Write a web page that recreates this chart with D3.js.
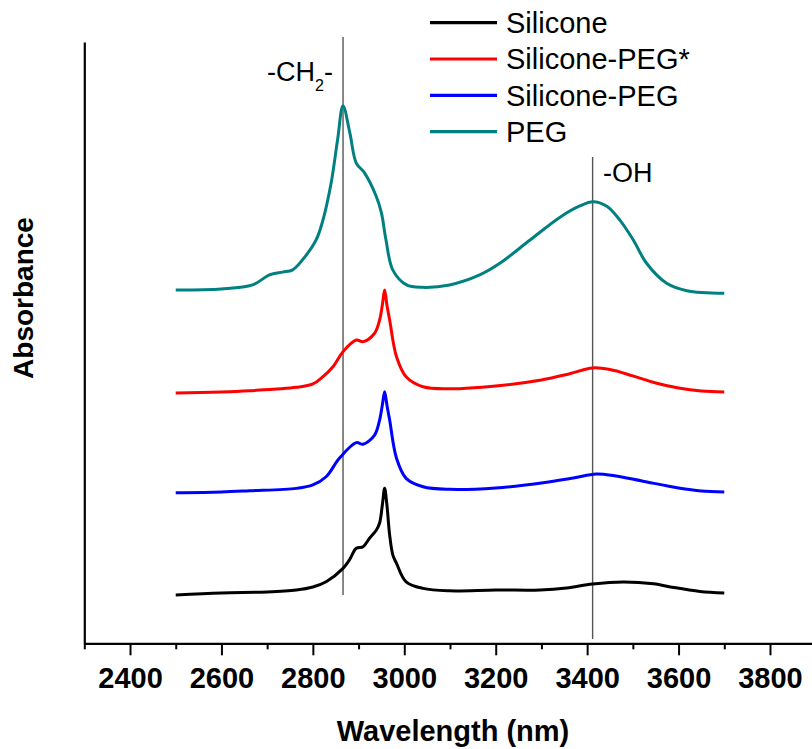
<!DOCTYPE html>
<html>
<head>
<meta charset="utf-8">
<script src="https://cdn.jsdelivr.net/npm/d3@7"></script>
<style>
  html, body { margin: 0; padding: 0; background: #fff; }
  svg { display: block; font-family: "Liberation Sans", Arial, sans-serif; }
</style>
</head>
<body>
<svg id="chart" width="812" height="749"></svg>
<script>
// ---- Data (wavelength in nm, absorbance in arbitrary stacked units) ----
const seriesNames = ["Silicone", "Silicone-PEG*", "Silicone-PEG", "PEG"];
const seriesColors = ["#000000", "#ff0000", "#0000ff", "#008080"];

const siliconeX = [2500,2600,2700,2764,2800,2829,2866,2880,2895,2910,2924,2939,2946,2952,2957,2962,2968,2975,2983,3004,3041,3099,3200,3297,3355,3412,3479,3545,3590,3647,3700];
const siliconeY = [0.241,0.251,0.256,0.266,0.281,0.307,0.374,0.416,0.474,0.482,0.524,0.565,0.600,0.690,0.773,0.690,0.540,0.440,0.399,0.307,0.274,0.262,0.266,0.266,0.276,0.296,0.306,0.297,0.278,0.259,0.251];

const silPegStarX = [2500,2600,2661,2764,2800,2822,2844,2866,2895,2910,2935,2946,2952,2957,2962,2968,2983,3004,3041,3099,3200,3300,3360,3412,3450,3500,3550,3600,3650,3700];
const silPegStarY = [1.249,1.254,1.260,1.277,1.294,1.330,1.380,1.455,1.513,1.505,1.547,1.613,1.688,1.763,1.688,1.613,1.430,1.330,1.280,1.270,1.284,1.314,1.344,1.374,1.366,1.334,1.299,1.274,1.259,1.254];

const silPegX = [2500,2600,2661,2764,2800,2829,2858,2895,2910,2935,2946,2952,2957,2962,2968,2983,3004,3041,3099,3200,3300,3370,3420,3460,3520,3600,3650,3700];
const silPegY = [0.751,0.755,0.761,0.773,0.790,0.831,0.923,1.001,0.993,1.039,1.114,1.189,1.255,1.189,1.114,0.923,0.823,0.781,0.768,0.775,0.800,0.825,0.845,0.836,0.810,0.775,0.760,0.755];

const pegX = [2500,2600,2668,2705,2734,2755,2777,2807,2821,2840,2854,2866,2881,2895,2913,2939,2950,2960,2975,3005,3040,3099,3165,3209,3275,3340,3384,3413,3443,3472,3501,3530,3574,3618,3700];
const pegY = [1.763,1.768,1.788,1.838,1.852,1.862,1.912,2.012,2.103,2.297,2.511,2.682,2.545,2.396,2.347,2.228,2.147,2.012,1.862,1.788,1.776,1.788,1.838,1.896,2.012,2.125,2.182,2.203,2.180,2.110,2.012,1.896,1.796,1.759,1.746];

const xTickMajor = [2400,2600,2800,3000,3200,3400,3600,3800];
const xTickMinor = [2300,2500,2700,2900,3100,3300,3500,3700,3900];
const markerNames = ["-CH", "-OH"];
const markerX = [2866, 3412];

// ---- Layout ----
const svg = d3.select("#chart");
const x = d3.scaleLinear().domain([2300, 3900]).range([84.3, 815.7]);
const y = d3.scaleLinear().domain([0, 3]).range([643.3, 42]);

const allX = [siliconeX, silPegStarX, silPegX, pegX];
const allY = [siliconeY, silPegStarY, silPegY, pegY];

// marker lines
const markerTop = [37, 157];
const markerBottom = [595, 639];
markerX.forEach((m, i) => {
  svg.append("line")
    .attr("x1", x(m)).attr("x2", x(m))
    .attr("y1", markerTop[i]).attr("y2", markerBottom[i])
    .attr("stroke", "#555").attr("stroke-width", 1.4);
});

// curves
const line = d3.line().x(d => x(d[0])).y(d => y(d[1])).curve(d3.curveCatmullRom.alpha(0.5));
[3, 1, 2, 0].forEach(i => {
  const pts = allX[i].map((v, k) => [v, allY[i][k]]);
  svg.append("path")
    .attr("d", line(pts))
    .attr("fill", "none")
    .attr("stroke", seriesColors[i])
    .attr("stroke-width", 3)
    .attr("stroke-linejoin", "round");
});

// axes
const gx = svg.append("g").attr("transform", `translate(0,${643.3})`);
gx.call(d3.axisBottom(x).tickValues(xTickMinor).tickSize(6).tickSizeOuter(0).tickFormat(""));
gx.call(g => g.selectAll(".tick line").attr("stroke-width", 2));
const gx2 = svg.append("g").attr("transform", `translate(0,${643.3})`);
gx2.call(d3.axisBottom(x).tickValues(xTickMajor).tickSize(12).tickSizeOuter(0).tickPadding(12).tickFormat(d3.format("d")));
gx2.select(".domain").attr("stroke-width", 2.2);
gx2.selectAll(".tick line").attr("stroke-width", 2);
gx2.selectAll(".tick text")
  .attr("font-size", 29).attr("font-weight", "bold")
  .attr("font-family", "Liberation Sans, Arial, sans-serif").attr("fill", "#000");
gx.select(".domain").remove();

const gy = svg.append("g").attr("transform", `translate(${84.3},0)`);
gy.call(d3.axisLeft(y).tickValues([]).tickSizeOuter(0));
gy.select(".domain").attr("stroke-width", 2.2);

// axis titles
svg.append("text")
  .attr("x", 453).attr("y", 741)
  .attr("text-anchor", "middle")
  .attr("font-size", 29).attr("font-weight", "bold")
  .text("Wavelength (nm)");
svg.append("text")
  .attr("transform", "translate(33,298) rotate(-90)")
  .attr("text-anchor", "middle")
  .attr("font-size", 28).attr("font-weight", "bold")
  .text("Absorbance");

// annotations
const ch = svg.append("text").attr("x", 267).attr("y", 81).attr("font-size", 27);
ch.append("tspan").text(markerNames[0]);
ch.append("tspan").attr("font-size", 16).attr("dy", 10).text("2");
ch.append("tspan").attr("dy", -10).text("-");
svg.append("text").attr("x", 603).attr("y", 182).attr("font-size", 27).text(markerNames[1]);

// legend
const legY0 = 22.7, legDy = 36.3;
seriesNames.forEach((n, i) => {
  const yy = legY0 + i * legDy;
  svg.append("line").attr("x1", 430).attr("x2", 497).attr("y1", yy).attr("y2", yy)
    .attr("stroke", seriesColors[i]).attr("stroke-width", 3.2);
  svg.append("text").attr("x", 506).attr("y", yy + 10.3)
    .attr("font-size", 29).text(n);
});
</script>
</body>
</html>
